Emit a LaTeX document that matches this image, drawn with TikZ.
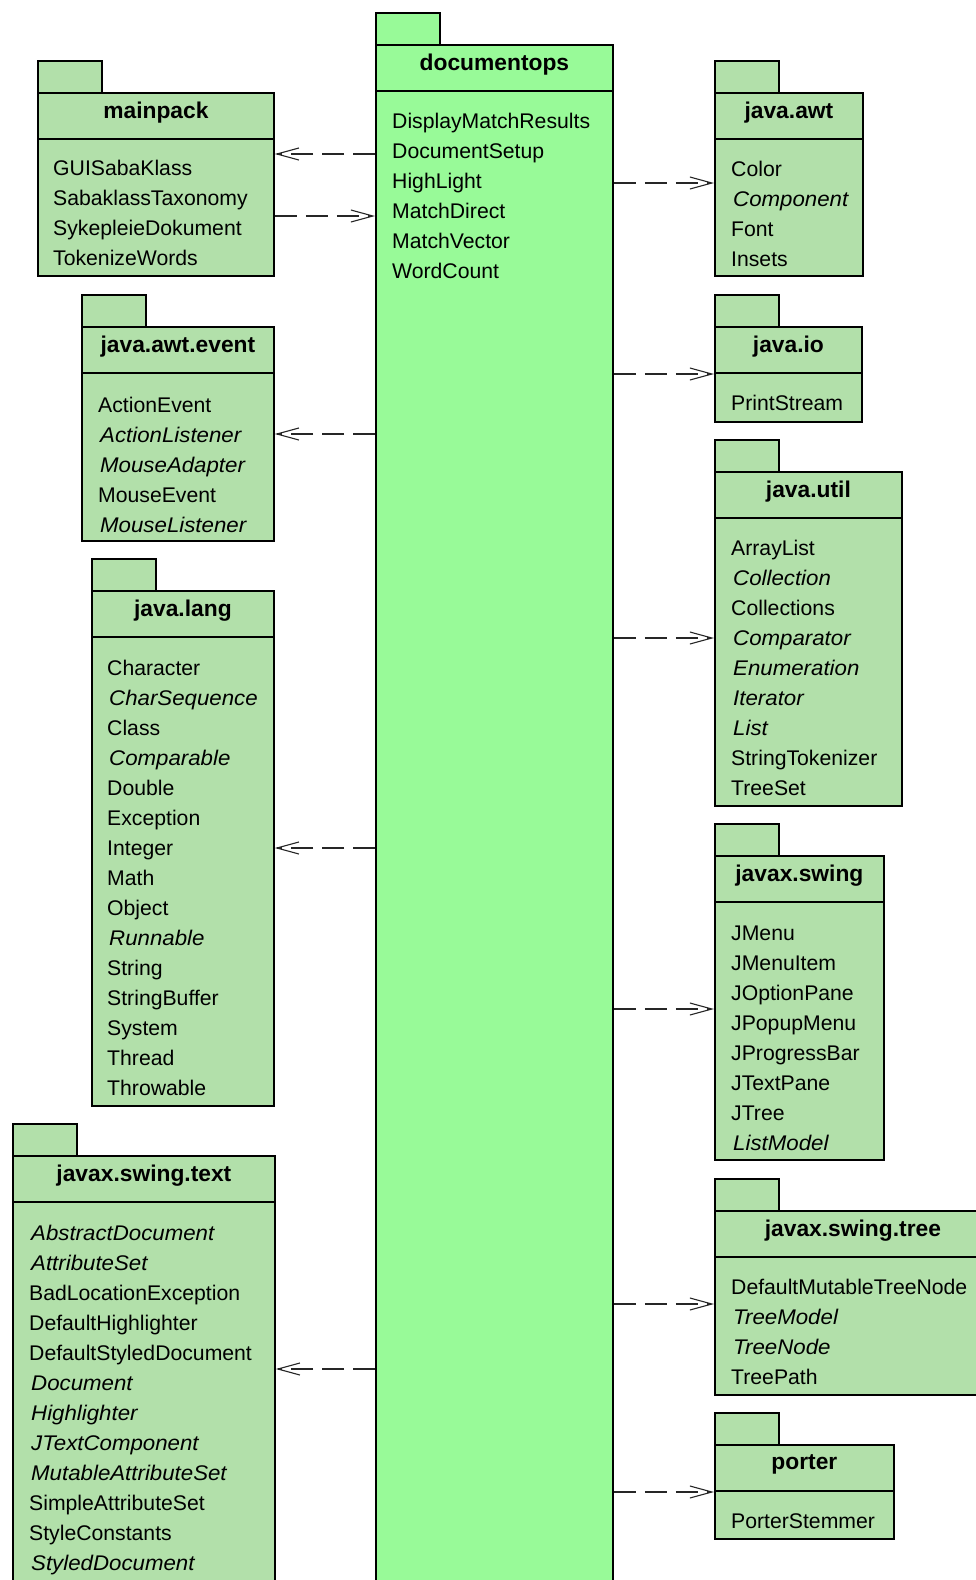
\documentclass[tikz,border=0pt]{standalone}
\usepackage{fontspec}
\setmainfont{Liberation Sans}
\newfontfamily\itfam{Liberation Sans}[FakeStretch=1.05]
\usetikzlibrary{arrows.meta}

\definecolor{pkgfill}{RGB}{178,224,170}
\definecolor{mainfill}{RGB}{152,250,152}

% interface names are set in italics
\newcommand\pkgit[1]{\hspace*{2pt}{\itfam\itshape #1}}

\tikzset{
  pkgline/.style={draw=black, line width=1.8pt},
  pkgtitle/.style={font=\fontsize{22.8}{24}\selectfont\bfseries, inner sep=0pt},
  item/.style={font=\fontsize{21.2}{24}\selectfont, anchor=base west, inner sep=0pt},
  dep/.style={draw=black!85, line width=1.3pt, dash pattern=on 22pt off 9pt,
    -{Straight Barb[length=22pt,width=12pt,line width=1.1pt]}}
}

% package: #1 id, #2 title, #3 left x, #4 top of tab, #5 right x, #6 bottom, #7 fill
\newcommand\umlpkg[7]{%
  \node[pkgline, fill=#7, anchor=north west, minimum width=64pt, minimum height=32pt,
        inner sep=0pt] (#1-tab) at (#3,#4) {};
  \node[pkgline, fill=#7, anchor=north west, minimum width=#5-#3, minimum height=46pt,
        inner sep=0pt] (#1-head) at (#3,#4+32) {};
  \node[pkgtitle] (#1-title) at ([yshift=3pt]#1-head.center) {#2};
  \node[pkgline, fill=#7, anchor=north west, minimum width=#5-#3, minimum height=#6-#4-78,
        inner sep=0pt] (#1) at (#3,#4+78) {};
}

% class list: #1 id, #2 text x, #3 centre of first line, #4 entries
\newcommand\pkgitems[4]{%
  \foreach \t [count=\i from 0] in {#4}
    \node[item] (#1-\i) at (#2, #3+7+30*\i) {\t};
}

\begin{document}
\begin{tikzpicture}[x=1pt,y=-1pt]
\useasboundingbox[fill=white] (0,0) rectangle (975,1580);

% central package
\umlpkg{doc}{documentops}{375}{12}{612}{1620}{mainfill}
\pkgitems{doc}{392}{121}{DisplayMatchResults,DocumentSetup,HighLight,MatchDirect,MatchVector,WordCount}

% left column
\umlpkg{main}{mainpack}{37}{60}{273}{275}{pkgfill}
\pkgitems{main}{53}{168}{GUISabaKlass,SabaklassTaxonomy,SykepleieDokument,TokenizeWords}

\umlpkg{evt}{java.awt.event}{81}{294}{273}{540}{pkgfill}
\pkgitems{evt}{98}{405}{ActionEvent,\pkgit{ActionListener},\pkgit{MouseAdapter},MouseEvent,\pkgit{MouseListener}}

\umlpkg{lang}{java.lang}{91}{558}{273}{1105}{pkgfill}
\pkgitems{lang}{107}{668}{Character,\pkgit{CharSequence},Class,\pkgit{Comparable},Double,Exception,Integer,Math,Object,\pkgit{Runnable},String,StringBuffer,System,Thread,Throwable}

\umlpkg{txt}{javax.swing.text}{12}{1123}{274}{1620}{pkgfill}
\pkgitems{txt}{29}{1233}{\pkgit{AbstractDocument},\pkgit{AttributeSet},BadLocationException,DefaultHighlighter,DefaultStyledDocument,\pkgit{Document},\pkgit{Highlighter},\pkgit{JTextComponent},\pkgit{MutableAttributeSet},SimpleAttributeSet,StyleConstants,\pkgit{StyledDocument}}

% right column
\umlpkg{awt}{java.awt}{714}{60}{862}{275}{pkgfill}
\pkgitems{awt}{731}{169}{Color,\pkgit{Component},Font,Insets}

\umlpkg{io}{java.io}{714}{294}{861}{421}{pkgfill}
\pkgitems{io}{731}{403}{PrintStream}

\umlpkg{util}{java.util}{714}{439}{901}{805}{pkgfill}
\pkgitems{util}{731}{548}{ArrayList,\pkgit{Collection},Collections,\pkgit{Comparator},\pkgit{Enumeration},\pkgit{Iterator},\pkgit{List},StringTokenizer,TreeSet}

\umlpkg{swing}{javax.swing}{714}{823}{883}{1159}{pkgfill}
\pkgitems{swing}{731}{933}{JMenu,JMenuItem,JOptionPane,JPopupMenu,JProgressBar,JTextPane,JTree,\pkgit{ListModel}}

\umlpkg{tree}{javax.swing.tree}{714}{1178}{990}{1394}{pkgfill}
\pkgitems{tree}{731}{1287}{DefaultMutableTreeNode,\pkgit{TreeModel},\pkgit{TreeNode},TreePath}

\umlpkg{porter}{porter}{714}{1412}{893}{1538}{pkgfill}
\pkgitems{porter}{731}{1521}{PorterStemmer}

% arrow ends on the package borders
\coordinate (e-main-in)  at (main.east |- 0,154);
\coordinate (e-main-out) at (main.east |- 0,216);
\coordinate (e-doc-in)   at (doc.west |- 0,216);
\coordinate (e-evt)  at (evt.east |- 0,434);
\coordinate (e-lang) at (lang.east |- 0,848);
\coordinate (e-txt)  at (txt.east |- 0,1369);
\coordinate (e-awt)  at (awt.west |- 0,183);
\coordinate (e-io)   at (io.west |- 0,374);
\coordinate (e-util) at (util.west |- 0,638);
\coordinate (e-swing) at (swing.west |- 0,1009);
\coordinate (e-tree) at (tree.west |- 0,1304);
\coordinate (e-porter) at (porter.west |- 0,1492);

% dependencies
\draw[dep] (doc.west |- e-main-in) -- (e-main-in);
\draw[dep] (e-main-out) -- (e-doc-in);
\draw[dep] (doc.west |- e-evt) -- (e-evt);
\draw[dep] (doc.west |- e-lang) -- (e-lang);
\draw[dep] (doc.west |- e-txt) -- (e-txt);
\draw[dep] (doc.east |- e-awt) -- (e-awt);
\draw[dep] (doc.east |- e-io) -- (e-io);
\draw[dep] (doc.east |- e-util) -- (e-util);
\draw[dep] (doc.east |- e-swing) -- (e-swing);
\draw[dep] (doc.east |- e-tree) -- (e-tree);
\draw[dep] (doc.east |- e-porter) -- (e-porter);
\end{tikzpicture}
\end{document}
